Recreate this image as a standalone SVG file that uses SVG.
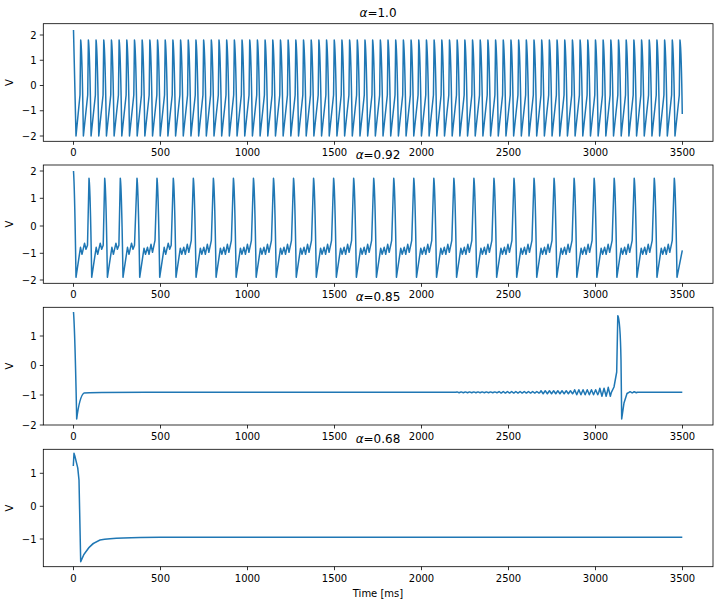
<svg xmlns="http://www.w3.org/2000/svg" xmlns:xlink="http://www.w3.org/1999/xlink" width="719" height="605" viewBox="0 0 719 605">
<style>
text{font-family:"DejaVu Sans",sans-serif;font-size:10px;fill:#000}
.xt{text-anchor:middle}
.yt{text-anchor:end}
.ttl{font-size:12px;text-anchor:middle}
.spine{fill:none;stroke:#000;stroke-width:0.8}
.tk{stroke:#000;stroke-width:0.8}
.ln{fill:none;stroke:#1f77b4;stroke-width:1.5;stroke-linejoin:round}
</style>
<defs>
<g id="xticks">
<path class="tk" d="M73.5,0v3.5M160.5,0v3.5M247.5,0v3.5M334.5,0v3.5M421.5,0v3.5M508.5,0v3.5M595.5,0v3.5M682.5,0v3.5"/>
<text class="xt" x="73.5" y="15">0</text><text class="xt" x="160.5" y="15">500</text><text class="xt" x="247.5" y="15">1000</text><text class="xt" x="334.5" y="15">1500</text><text class="xt" x="421.5" y="15">2000</text><text class="xt" x="508.5" y="15">2500</text><text class="xt" x="595.5" y="15">3000</text><text class="xt" x="682.5" y="15">3500</text>
</g>
</defs>
<rect width="719" height="605" fill="#fff"/>
<g id="ax1">
<text class="ttl" x="378" y="17"><tspan font-style="italic">α</tspan>=1.0</text>
<use xlink:href="#xticks" y="141.3"/>
<path class="tk" d="M43.3,35h-3.5M43.3,60.25h-3.5M43.3,85.5h-3.5M43.3,110.75h-3.5M43.3,136h-3.5"/>
<text class="yt" x="36.5" y="38.5">2</text><text class="yt" x="36.5" y="63.75">1</text><text class="yt" x="36.5" y="89">0</text><text class="yt" x="36.5" y="114.25">−1</text><text class="yt" x="36.5" y="139.5">−2</text>
<text transform="translate(13,82.5) rotate(-90)" text-anchor="middle">V</text>
</g>
<g id="ax2">
<text class="ttl" x="378" y="159"><tspan font-style="italic">α</tspan>=0.92</text>
<use xlink:href="#xticks" y="283.3"/>
<path class="tk" d="M43.3,171h-3.5M43.3,198.3h-3.5M43.3,226h-3.5M43.3,253.3h-3.5M43.3,280h-3.5"/>
<text class="yt" x="36.5" y="174.5">2</text><text class="yt" x="36.5" y="201.8">1</text><text class="yt" x="36.5" y="229.5">0</text><text class="yt" x="36.5" y="256.8">−1</text><text class="yt" x="36.5" y="283.5">−2</text>
<text transform="translate(13,224) rotate(-90)" text-anchor="middle">V</text>
</g>
<g id="ax3">
<text class="ttl" x="378" y="301"><tspan font-style="italic">α</tspan>=0.85</text>
<use xlink:href="#xticks" y="425"/>
<path class="tk" d="M43.3,336h-3.5M43.3,365.5h-3.5M43.3,395h-3.5M43.3,425h-3.5"/>
<text class="yt" x="36.5" y="339.5">1</text><text class="yt" x="36.5" y="369">0</text><text class="yt" x="36.5" y="398.5">−1</text><text class="yt" x="36.5" y="428.5">−2</text>
<text transform="translate(13,366) rotate(-90)" text-anchor="middle">V</text>
</g>
<g id="ax4">
<text class="ttl" x="378" y="443"><tspan font-style="italic">α</tspan>=0.68</text>
<use xlink:href="#xticks" y="566.7"/>
<path class="tk" d="M43.3,473.3h-3.5M43.3,506.3h-3.5M43.3,539h-3.5"/>
<text class="yt" x="36.5" y="476.8">1</text><text class="yt" x="36.5" y="509.8">0</text><text class="yt" x="36.5" y="542.5">−1</text>
<text transform="translate(13,508) rotate(-90)" text-anchor="middle">V</text>
<text class="xt" x="378" y="597">Time [ms]</text>
</g>
<g id="connectors">
<path class="ln" d="M73.5,30 C74.3,50 75,90 76,136 l4,-41 l0.7,-55 c0.8,5 1.6,25 2.7,96 l4.3,-41 l0.683,-55 c0.8,5 1.6,25 2.7,96 l4.3,-41 l0.683,-55 c0.8,5 1.6,25 2.7,96 l4.3,-41 l0.683,-55 c0.8,5 1.6,25 2.7,96 l4.3,-41 l0.683,-55 c0.8,5 1.6,25 2.7,96 l4.3,-41 l0.683,-55 c0.8,5 1.6,25 2.7,96 l4.3,-41 l0.683,-55 c0.8,5 1.6,25 2.7,96 l4.3,-41 l0.683,-55 c0.8,5 1.6,25 2.7,96 l4.3,-41 l0.683,-55 c0.8,5 1.6,25 2.7,96 l4.3,-41 l0.683,-55 c0.8,5 1.6,25 2.7,96 l4.3,-41 l0.683,-55 c0.8,5 1.6,25 2.7,96 l4.3,-41 l0.683,-55 c0.8,5 1.6,25 2.7,96 l4.3,-41 l0.683,-55 c0.8,5 1.6,25 2.7,96 l4.3,-41 l0.683,-55 c0.8,5 1.6,25 2.7,96 l4.3,-41 l0.683,-55 c0.8,5 1.6,25 2.7,96 l4.3,-41 l0.683,-55 c0.8,5 1.6,25 2.7,96 l4.3,-41 l0.683,-55 c0.8,5 1.6,25 2.7,96 l4.3,-41 l0.683,-55 c0.8,5 1.6,25 2.7,96 l4.3,-41 l0.683,-55 c0.8,5 1.6,25 2.7,96 l4.3,-41 l0.683,-55 c0.8,5 1.6,25 2.7,96 l4.3,-41 l0.683,-55 c0.8,5 1.6,25 2.7,96 l4.3,-41 l0.683,-55 c0.8,5 1.6,25 2.7,96 l4.3,-41 l0.683,-55 c0.8,5 1.6,25 2.7,96 l4.3,-41 l0.683,-55 c0.8,5 1.6,25 2.7,96 l4.3,-41 l0.683,-55 c0.8,5 1.6,25 2.7,96 l4.3,-41 l0.683,-55 c0.8,5 1.6,25 2.7,96 l4.3,-41 l0.683,-55 c0.8,5 1.6,25 2.7,96 l4.3,-41 l0.683,-55 c0.8,5 1.6,25 2.7,96 l4.3,-41 l0.683,-55 c0.8,5 1.6,25 2.7,96 l4.3,-41 l0.683,-55 c0.8,5 1.6,25 2.7,96 l4.3,-41 l0.683,-55 c0.8,5 1.6,25 2.7,96 l4.3,-41 l0.683,-55 c0.8,5 1.6,25 2.7,96 l4.3,-41 l0.683,-55 c0.8,5 1.6,25 2.7,96 l4.3,-41 l0.683,-55 c0.8,5 1.6,25 2.7,96 l4.3,-41 l0.683,-55 c0.8,5 1.6,25 2.7,96 l4.3,-41 l0.683,-55 c0.8,5 1.6,25 2.7,96 l4.3,-41 l0.683,-55 c0.8,5 1.6,25 2.7,96 l4.3,-41 l0.683,-55 c0.8,5 1.6,25 2.7,96 l4.3,-41 l0.683,-55 c0.8,5 1.6,25 2.7,96 l4.3,-41 l0.683,-55 c0.8,5 1.6,25 2.7,96 l4.3,-41 l0.683,-55 c0.8,5 1.6,25 2.7,96 l4.3,-41 l0.683,-55 c0.8,5 1.6,25 2.7,96 l4.3,-41 l0.683,-55 c0.8,5 1.6,25 2.7,96 l4.3,-41 l0.683,-55 c0.8,5 1.6,25 2.7,96 l4.3,-41 l0.683,-55 c0.8,5 1.6,25 2.7,96 l4.3,-41 l0.683,-55 c0.8,5 1.6,25 2.7,96 l4.3,-41 l0.683,-55 c0.8,5 1.6,25 2.7,96 l4.3,-41 l0.683,-55 c0.8,5 1.6,25 2.7,96 l4.3,-41 l0.683,-55 c0.8,5 1.6,25 2.7,96 l4.3,-41 l0.683,-55 c0.8,5 1.6,25 2.7,96 l4.3,-41 l0.683,-55 c0.8,5 1.6,25 2.7,96 l4.3,-41 l0.683,-55 c0.8,5 1.6,25 2.7,96 l4.3,-41 l0.683,-55 c0.8,5 1.6,25 2.7,96 l4.3,-41 l0.683,-55 c0.8,5 1.6,25 2.7,96 l4.3,-41 l0.683,-55 c0.8,5 1.6,25 2.7,96 l4.3,-41 l0.683,-55 c0.8,5 1.6,25 2.7,96 l4.3,-41 l0.683,-55 c0.8,5 1.6,25 2.7,96 l4.3,-41 l0.683,-55 c0.8,5 1.6,25 2.7,96 l4.3,-41 l0.683,-55 c0.8,5 1.6,25 2.7,96 l4.3,-41 l0.683,-55 c0.8,5 1.6,25 2.7,96 l4.3,-41 l0.683,-55 c0.8,5 1.6,25 2.7,96 l4.3,-41 l0.683,-55 c0.8,5 1.6,25 2.7,96 l4.3,-41 l0.683,-55 c0.8,5 1.6,25 2.7,96 l4.3,-41 l0.683,-55 c0.8,5 1.6,25 2.7,96 l4.3,-41 l0.683,-55 c0.8,5 1.6,25 2.7,96 l4.3,-41 l0.683,-55 c0.8,5 1.6,25 2.7,96 l4.3,-41 l0.683,-55 c0.8,5 1.6,25 2.7,96 l4.3,-41 l0.683,-55 c0.8,5 1.6,25 2.7,96 l4.3,-41 l0.683,-55 c0.8,5 1.6,25 2.7,96 l4.3,-41 l0.683,-55 c0.8,5 1.6,25 2.7,96 l4.3,-41 l0.683,-55 c0.8,5 1.6,25 2.7,96 l4.3,-41 l0.683,-55 c0.8,5 1.6,25 2.7,96 l4.3,-41 l0.683,-55 c0.8,5 1.6,25 2.7,96 l4.3,-41 l0.683,-55 c0.8,5 1.6,25 2.7,96 l4.3,-41 l0.683,-55 c0.8,5 1.6,25 2.7,96 l4.3,-41 l0.683,-55 c0.8,5 1.6,25 2.7,96 l4.3,-41 l0.683,-55 c0.8,5 1.6,25 2.7,96 l4.3,-41 l0.683,-55 c0.8,5 1.6,25 2.7,96 l4.3,-41 l0.683,-55 c0.8,5 1.6,25 2.3,74"/>
<path class="ln" d="M73.5,171 C74.5,185 75,210 76,277.3 l4.5,-30 l1.5,7 l2.5,-11 l1.5,6 l1.5,-4 l1.5,-67
c0.8,5 1.6,30 2.7,99 l4.5,-30 l1.5,7 l2.5,-11 l1.5,6 l1.5,-4 l1.5,-67
c0.8,5 1.6,30 2.7,99 l4.5,-30 l1.5,7 l2.5,-11 l1.5,6 l1.5,-4 l1.4,-67
c0.8,5 1.6,30 2.7,99 l4.5,-30 l1.5,7 l2.5,-11 l1.5,6 l1.5,-4 l2.5,-67
c0.8,5 1.6,30 2.7,99 l4.3,-29 l1.5,6 l2,-7 l1.5,7 l2,-10 l1.5,8 l2.5,-12 l2,-62
c0.8,5 1.6,30 2.7,99 l4.5,-30 l1.5,7 l2.5,-11 l1.5,6 l1.5,-4 l2.1,-67
c0.8,5 1.6,30 2.7,99 l4.3,-29 l1.5,6 l2,-7 l1.5,7 l2,-10 l1.5,8 l2.5,-12 l2.04,-62
c0.8,5 1.6,30 2.7,99 l4.3,-29 l1.5,6 l2,-7 l1.5,7 l2,-10 l1.5,8 l2.5,-12 l2.04,-62
c0.8,5 1.6,30 2.7,99 l4.3,-29 l1.5,6 l2,-7 l1.5,7 l2,-10 l1.5,8 l2.5,-12 l2.04,-62
c0.8,5 1.6,30 2.7,99 l4.3,-29 l1.5,6 l2,-7 l1.5,7 l2,-10 l1.5,8 l2.5,-12 l2.04,-62
c0.8,5 1.6,30 2.7,99 l4.3,-29 l1.5,6 l2,-7 l1.5,7 l2,-10 l1.5,8 l2.5,-12 l2.04,-62
c0.8,5 1.6,30 2.7,99 l4.3,-29 l1.5,6 l2,-7 l1.5,7 l2,-10 l1.5,8 l2.5,-12 l2.04,-62
c0.8,5 1.6,30 2.7,99 l4.3,-29 l1.5,6 l2,-7 l1.5,7 l2,-10 l1.5,8 l2.5,-12 l2.04,-62
c0.8,5 1.6,30 2.7,99 l4.3,-29 l1.5,6 l2,-7 l1.5,7 l2,-10 l1.5,8 l2.5,-12 l2.04,-62
c0.8,5 1.6,30 2.7,99 l4.3,-29 l1.5,6 l2,-7 l1.5,7 l2,-10 l1.5,8 l2.5,-12 l2.04,-62
c0.8,5 1.6,30 2.7,99 l4.3,-29 l1.5,6 l2,-7 l1.5,7 l2,-10 l1.5,8 l2.5,-12 l2.04,-62
c0.8,5 1.6,30 2.7,99 l4.3,-29 l1.5,6 l2,-7 l1.5,7 l2,-10 l1.5,8 l2.5,-12 l2.04,-62
c0.8,5 1.6,30 2.7,99 l4.3,-29 l1.5,6 l2,-7 l1.5,7 l2,-10 l1.5,8 l2.5,-12 l2.04,-62
c0.8,5 1.6,30 2.7,99 l4.3,-29 l1.5,6 l2,-7 l1.5,7 l2,-10 l1.5,8 l2.5,-12 l2.04,-62
c0.8,5 1.6,30 2.7,99 l4.3,-29 l1.5,6 l2,-7 l1.5,7 l2,-10 l1.5,8 l2.5,-12 l2.04,-62
c0.8,5 1.6,30 2.7,99 l4.3,-29 l1.5,6 l2,-7 l1.5,7 l2,-10 l1.5,8 l2.5,-12 l2.04,-62
c0.8,5 1.6,30 2.7,99 l4.3,-29 l1.5,6 l2,-7 l1.5,7 l2,-10 l1.5,8 l2.5,-12 l2.04,-62
c0.8,5 1.6,30 2.7,99 l4.3,-29 l1.5,6 l2,-7 l1.5,7 l2,-10 l1.5,8 l2.5,-12 l2.04,-62
c0.8,5 1.6,30 2.7,99 l4.3,-29 l1.5,6 l2,-7 l1.5,7 l2,-10 l1.5,8 l2.5,-12 l2.04,-62
c0.8,5 1.6,30 2.7,99 l4.3,-29 l1.5,6 l2,-7 l1.5,7 l2,-10 l1.5,8 l2.5,-12 l2.04,-62
c0.8,5 1.6,30 2.7,99 l4.3,-29 l1.5,6 l2,-7 l1.5,7 l2,-10 l1.5,8 l2.5,-12 l2.04,-62
c0.8,5 1.6,30 2.7,99 l4.3,-29 l1.5,6 l2,-7 l1.5,7 l2,-10 l1.5,8 l2.5,-12 l2.04,-62
c0.8,5 1.6,30 2.7,99 l4.3,-29 l1.5,6 l2,-7 l1.5,7 l2,-10 l1.5,8 l2.5,-12 l2.04,-62
c0.8,5 1.6,30 2.7,99 l4.3,-29 l1.5,6 l2,-7 l1.5,7 l2,-10 l1.5,8 l2.5,-12 l2.04,-62
c0.8,5 1.6,30 2.7,99 l4.3,-29 l1.5,6 l2,-7 l1.5,7 l2,-10 l1.5,8 l2.5,-12 l2.04,-62
c0.8,5 1.6,30 2.7,99 l4.3,-29 l1.5,6 l2,-7 l1.5,7 l2,-10 l1.5,8 l2.5,-12 l2.04,-62
c0.8,5 1.6,30 2.7,99 l5.3,-27"/>
<path class="ln" d="M73.5,312 C74.5,325 75.5,360 76.7,419 C78.5,405 81,395 84,393 C90,392 120,392.3 200,392.3 L456,392.3
l1.05,-0.4 l2.1,0.8 l1.05,-0.4 l1.05,-0.4 l2.1,0.8 l1.05,-0.4 l1.05,-0.4 l2.1,0.8 l1.05,-0.4 l1.05,-0.4 l2.1,0.8 l1.05,-0.4 l1.05,-0.4 l2.1,0.8 l1.05,-0.4 l1.05,-0.4 l2.1,0.8 l1.05,-0.4 l1.05,-0.4 l2.1,0.8 l1.05,-0.4 l1.05,-0.4 l2.1,0.8 l1.05,-0.4 l1.05,-0.4 l2.1,0.8 l1.05,-0.4 l1.05,-0.4 l2.1,0.8 l1.05,-0.4
l1.05,-0.8 l2.1,1.6 l1.05,-0.8 l1.05,-0.8 l2.1,1.6 l1.05,-0.8 l1.05,-0.8 l2.1,1.6 l1.05,-0.8 l1.05,-0.8 l2.1,1.6 l1.05,-0.8 l1.05,-0.8 l2.1,1.6 l1.05,-0.8 l1.05,-0.8 l2.1,1.6 l1.05,-0.8 l1.05,-0.8 l2.1,1.6 l1.05,-0.8 l1.05,-0.8 l2.1,1.6 l1.05,-0.8 l1.05,-0.8 l2.1,1.6 l1.05,-0.8 l1.05,-0.8 l2.1,1.6 l1.05,-0.8
l1.05,-1.5 l2.1,3 l1.05,-1.5 l1.05,-1.5 l2.1,3 l1.05,-1.5 l1.05,-1.5 l2.1,3 l1.05,-1.5 l1.05,-1.5 l2.1,3 l1.05,-1.5 l1.05,-1.5 l2.1,3 l1.05,-1.5 l1.05,-1.5 l2.1,3 l1.05,-1.5 l1.05,-1.5 l2.1,3 l1.05,-1.5 l1.05,-1.5 l2.1,3 l1.05,-1.5
l1.05,-2.5 l2.1,5 l1.05,-2.5 l1.05,-2.5 l2.1,5 l1.05,-2.5 l1.05,-2.5 l2.1,5 l1.05,-2.5 l1.05,-2.5 l2.1,5 l1.05,-2.5 l1.05,-2.5 l2.1,5 l1.05,-2.5 l1.05,-2.5 l2.1,5 l1.05,-2.5
l1.05,-4 l2.1,8 l1.05,-4 l1.05,-4 l2.1,8 l1.05,-4 l1.05,-5 l2.1,9 l1.05,-4
L614,387 L616.7,372 L617.8,315.7 C619.3,318 620.4,330 621,360 L621.7,419 L624,403 L627,393.5 L629,392.3 l1.05,-0.6 l2.1,1.2 l1.05,-0.6 l1.05,-0.5 l2.1,1 l1.05,-0.5 L682.3,392.3"/>
<path class="ln" d="M73.3,466 L74,453.3 C76,460 78.5,466 79,480 L80.7,561.7 C85,550 92,543 100,540 C115,537.6 135,537.3 160,537.3 L682.3,537.3"/>
</g>
<g id="spines">
<rect class="spine" x="43.3" y="23.7" width="669.7" height="117.6"/>
<rect class="spine" x="43.3" y="165" width="669.7" height="118.3"/>
<rect class="spine" x="43.3" y="307.3" width="669.7" height="117.7"/>
<rect class="spine" x="43.3" y="449.3" width="669.7" height="117.4"/>
</g>
</svg>
